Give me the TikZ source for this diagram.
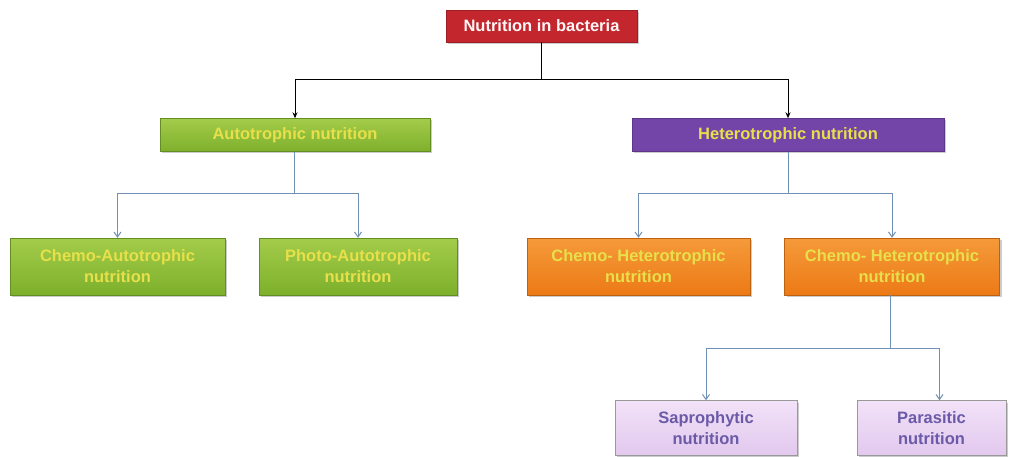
\documentclass[tikz,border=0pt]{standalone}
\usepackage{fontspec}
\setmainfont{Liberation Sans}
\usetikzlibrary{arrows.meta,shadows}
\definecolor{redbox}{HTML}{C4262E}
\definecolor{greentop}{HTML}{A3CC4A}
\definecolor{greenbot}{HTML}{7DB02C}
\definecolor{purpbox}{HTML}{7445A8}
\definecolor{orangetop}{HTML}{F59A3A}
\definecolor{orangebot}{HTML}{EC7A16}
\definecolor{lavtop}{HTML}{F2E2F8}
\definecolor{lavbot}{HTML}{E2C8EE}
\definecolor{yeltext}{HTML}{E8E04A}
\definecolor{lavtext}{HTML}{6A5AA8}
\definecolor{conn}{HTML}{7090B4}
\tikzset{
  base/.style={rectangle, minimum height=#1, inner sep=2pt, align=center, font=\bfseries\fontsize{16.5}{21}\selectfont, drop shadow={shadow xshift=2pt, shadow yshift=-2pt, opacity=0.4}},
  rootbox/.style={base=32pt, fill=redbox, draw=redbox!80!black, text=white!88!pink, minimum width=191pt},
  greenbox/.style={base=33pt, top color=greentop, bottom color=greenbot, draw=greenbot!80!black, text=yeltext},
  greenbig/.style={base=57pt, top color=greentop, bottom color=greenbot, draw=greenbot!80!black, text=yeltext},
  purpbox/.style={base=33pt, fill=purpbox, draw=purpbox!80!black, text=yeltext},
  orangebox/.style={base=57pt, top color=orangetop, bottom color=orangebot, draw=orangebot!80!black, text=yeltext},
  lavbox/.style={base=55pt, top color=lavtop, bottom color=lavbot, draw=gray!80, text=lavtext},
  blackconn/.style={draw=black, line width=1pt, -{Stealth[length=6pt,width=5pt]}},
  blueconn/.style={draw=conn, line width=1pt, -{Straight Barb[length=5pt,width=7pt]}},
}
\begin{document}
\begin{tikzpicture}[x=1pt,y=-1pt]
\useasboundingbox (0,0) rectangle (1016,457);
\node[rootbox] (root) at (541.5,26) {Nutrition in bacteria};
\node[greenbox, minimum width=270pt] (auto) at (295,135) {Autotrophic nutrition};
\node[purpbox, minimum width=312pt] (hetero) at (788,135) {Heterotrophic nutrition};
\node[greenbig, minimum width=215pt] (chemoauto) at (117.5,266.5) {Chemo-Autotrophic\\nutrition};
\node[greenbig, minimum width=198pt] (photoauto) at (358,266.5) {Photo-Autotrophic\\nutrition};
\node[orangebox, minimum width=223pt] (chemohet1) at (638.5,266.5) {Chemo- Heterotrophic\\nutrition};
\node[orangebox, minimum width=215pt] (chemohet2) at (892,266.5) {Chemo- Heterotrophic\\nutrition};
\node[lavbox, minimum width=182pt] (sapro) at (706,428) {Saprophytic\\nutrition};
\node[lavbox, minimum width=149pt] (para) at (931.5,428) {Parasitic\\nutrition};
\coordinate (j1) at (541.5,80);
\coordinate (j2) at (294,193);
\coordinate (j3) at (788,193);
\coordinate (j4) at (890,348);
\draw[line width=1pt] (root.south) -- (j1);
\draw[blackconn] (j1) -| (auto.north);
\draw[blackconn] (j1) -| (hetero.north);
\draw[draw=conn, line width=1pt] (auto.south -| j2) -- (j2);
\draw[blueconn] (j2) -| (chemoauto.north);
\draw[blueconn] (j2) -| (photoauto.north);
\draw[draw=conn, line width=1pt] (hetero.south) -- (j3);
\draw[blueconn] (j3) -| (chemohet1.north);
\draw[blueconn] (j3) -| (chemohet2.north);
\draw[draw=conn, line width=1pt] (chemohet2.south -| j4) -- (j4);
\draw[blueconn] (j4) -| (sapro.north);
\draw[blueconn] (j4) -| ([xshift=8pt]para.north);
\end{tikzpicture}
\end{document}
